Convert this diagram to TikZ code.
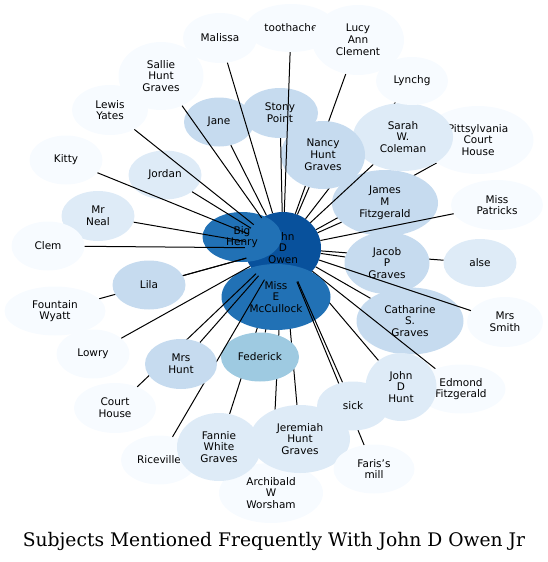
\documentclass[tikz,border=0pt]{standalone}
\usepackage{fontspec}
\setmainfont{DejaVu Sans}
\newfontfamily\titlefont{DejaVu Serif}
\usetikzlibrary{shapes.geometric}

\definecolor{blues0}{HTML}{F7FBFF}
\definecolor{blues1}{HTML}{DEEBF7}
\definecolor{blues2}{HTML}{C6DBEF}
\definecolor{blues3}{HTML}{9ECAE1}
\definecolor{blues6}{HTML}{2171B5}
\definecolor{blues7}{HTML}{08519C}

\pgfdeclarelayer{back}
\pgfdeclarelayer{linksA}
\pgfdeclarelayer{linksB}
\pgfdeclarelayer{front}
\pgfsetlayers{back,linksA,main,linksB,front}

\begin{document}
\begin{tikzpicture}[%
    x=1pt,
    y=-1pt,
    subj/.style={ellipse, inner sep=0pt, align=center,
      font=\fontsize{10.5}{11.8}\selectfont},
    sz/.style 2 args={minimum width=#1pt, minimum height=#2pt},
    t0/.style={subj, fill=blues0},
    t1/.style={subj, fill=blues1},
    t2/.style={subj, fill=blues2},
    t3/.style={subj, fill=blues3},
    t6/.style={subj, fill=blues6},
    t7/.style={subj, fill=blues7},
    link/.style={draw=black, line width=1pt}
  ]
  \useasboundingbox (0,0) rectangle (548,562);

  % centre of the graph
  \begin{pgfonlayer}{back}
  \node[t7, sz={76}{72}] (owen) at (283,248) {John\\D\\Owen};
  \node[t6, sz={79}{50}] (bighenry) at (242,237) {Big\\Henry};
  \node[t2, sz={107}{67}] (catharine) at (410,321) {Catharine\\S.\\Graves};
  \end{pgfonlayer}

  \node[t0, sz={111}{68}] (pitts) at (478,140) {Pittsylvania\\Court\\House};
  \node[t1, sz={100}{68}] (sarah) at (403,137) {Sarah\\W.\\Coleman};
  \node[t0, sz={72}{48}] (lynchg) at (412,81) {Lynchg};
  \node[t0, sz={74}{50}] (malissa) at (220,38) {Malissa};
  \node[t0, sz={90}{48}] (toothache) at (291,28) {toothache};
  \node[t0, sz={92}{70}] (lucy) at (358,40) {Lucy\\Ann\\Clement};
  \node[t0, sz={85}{68}] (sallie) at (161,76) {Sallie\\Hunt\\Graves};
  \node[t0, sz={76}{50}] (lewis) at (110,110) {Lewis\\Yates};
  \node[t2, sz={70}{49}] (jane) at (219,122) {Jane};
  \node[t2, sz={76}{50}] (stony) at (280,113) {Stony\\Point};
  \node[t0, sz={73}{49}] (kitty) at (66,160) {Kitty};
  \node[t1, sz={73}{49}] (jordan) at (165,175) {Jordan};
  \node[t2, sz={84}{68}] (nancy) at (323,155) {Nancy\\Hunt\\Graves};
  \node[t2, sz={106}{66}] (james) at (385,203) {James\\M\\Fitzgerald};
  \node[t0, sz={92}{50}] (patricks) at (497,205) {Miss\\Patricks};
  \node[t1, sz={73}{50}] (neal) at (98,216) {Mr\\Neal};
  \node[t0, sz={73}{49}] (clem) at (48,246) {Clem};
  \node[t2, sz={85}{62}] (jacob) at (387,263) {Jacob\\P\\Graves};
  \node[t1, sz={73}{48}] (alse) at (480,263) {alse};
  \node[t0, sz={76}{50}] (smith) at (505,322) {Mrs\\Smith};
  \node[t2, sz={73}{49}] (lila) at (149,285) {Lila};
  \node[t0, sz={101}{49}] (fountain) at (55,311) {Fountain\\Wyatt};
  \node[t0, sz={73}{49}] (lowry) at (93,354) {Lowry};
  \node[t6, sz={109}{66}] (mcc) at (276,297) {Miss\\E\\McCullock};
  \node[t3, sz={78}{49}] (federick) at (260,357) {Federick};
  \node[t0, sz={82}{50}] (courthouse) at (115,408) {Court\\House};
  \node[t0, sz={76}{49}] (riceville) at (159,460) {Riceville};
  \node[t0, sz={104}{60}] (archibald) at (271,493) {Archibald\\W\\Worsham};
  \node[t1, sz={84}{68}] (fannie) at (219,447) {Fannie\\White\\Graves};
  \node[t1, sz={100}{68}] (jeremiah) at (300,439) {Jeremiah\\Hunt\\Graves};
  \node[t0, sz={89}{49}] (edmond) at (461,389) {Edmond\\Fitzgerald};
  \node[t1, sz={71}{68}] (johnhunt) at (401,387) {John\\D\\Hunt};
  \node[t0, sz={81}{49}] (faris) at (374,469) {Faris's\\mill};

  \begin{pgfonlayer}{front}
  \node[t1, sz={72}{49}] (sick) at (353,406) {sick};
  \node[t2, sz={72}{50}] (mrshunt) at (181,364) {Mrs\\Hunt};
  \end{pgfonlayer}

  % links that pass under other subjects
  \begin{pgfonlayer}{linksA}
  \path[link] (federick) edge (owen);
  \path[link] (fannie) edge (owen);
  \path[link] (archibald) edge (owen);
  \path[link] (jeremiah) edge (owen);
  \path[link] (johnhunt) edge (owen);
  \path[link] (edmond) edge (owen);
  \path[link] (lynchg) edge (owen);
  \path[link] (pitts) edge (owen);
  \path[link] (alse) edge (owen);
  \path[link] (fountain) edge (owen);
  \path[link] (lucy) edge (owen);
  \end{pgfonlayer}

  % links drawn over the subjects
  \begin{pgfonlayer}{linksB}
  \path[link] (malissa) edge (owen);
  \path[link] (toothache) edge (owen);
  \path[link] (sallie) edge (owen);
  \path[link] (lewis) edge (owen);
  \path[link] (jane) edge (owen);
  \path[link] (stony) edge (owen);
  \path[link] (kitty) edge (owen);
  \path[link] (jordan) edge (owen);
  \path[link] (nancy) edge (owen);
  \path[link] (sarah) edge (owen);
  \path[link] (james) edge (owen);
  \path[link] (patricks) edge (owen);
  \path[link] (neal) edge (owen);
  \path[link] (clem) edge (owen);
  \path[link] (jacob) edge (owen);
  \path[link] (catharine) edge (owen);
  \path[link] (smith) edge (owen);
  \path[link] (lila) edge (owen);
  \path[link] (lowry) edge (owen);
  \path[link] (mrshunt) edge (owen);
  \path[link] (courthouse) edge (owen);
  \path[link] (riceville) edge (owen);
  \path[link] (sick) edge (owen);
  \path[link] (faris) edge (owen);
  \end{pgfonlayer}

  \node[font=\titlefont\fontsize{18.7}{22}\selectfont] (title) at (274,541)
    {Subjects Mentioned Frequently With John D Owen Jr};
\end{tikzpicture}
\end{document}
